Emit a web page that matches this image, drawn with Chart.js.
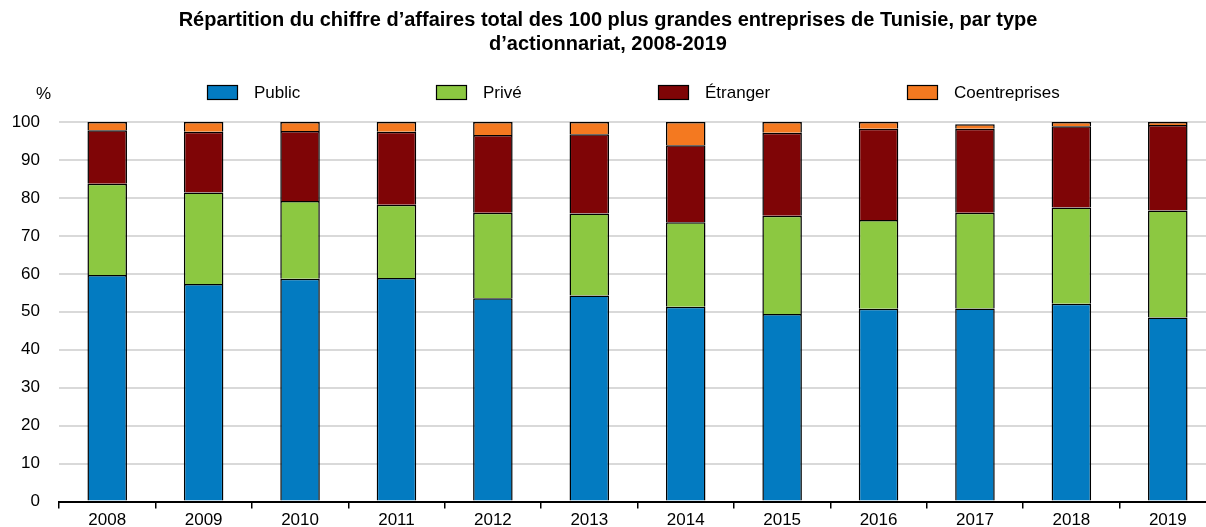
<!DOCTYPE html>
<html>
<head>
<meta charset="utf-8">
<script src="https://cdn.jsdelivr.net/npm/chart.js@4/dist/chart.umd.min.js"></script>
<style>
  html, body { margin: 0; padding: 0; background: #fff; overflow: hidden; }
  #wrap { width: 1222px; height: 533px; position: relative; }
</style>
</head>
<body>
<div id="wrap"><canvas id="myChart"></canvas></div>
<script>
const years = ['2008', '2009', '2010', '2011', '2012', '2013', '2014', '2015', '2016', '2017', '2018', '2019'];
const publicShare = [59.7, 57.3, 58.7, 58.9, 53.6, 54.3, 51.3, 49.4, 50.8, 50.9, 52.1, 48.5];
const priveShare = [24.0, 24.1, 20.5, 19.3, 22.5, 21.6, 22.3, 25.9, 23.4, 25.2, 25.4, 28.2];
const etrangerShare = [14.1, 16.0, 18.4, 19.2, 20.5, 20.9, 20.3, 21.9, 24.0, 22.1, 21.4, 22.5];
const coentrepriseShare = [2.2, 2.6, 2.4, 2.6, 3.4, 3.2, 6.1, 2.8, 1.8, 1.2, 1.1, 0.8];

const FONT = "'Liberation Sans', Arial, sans-serif";

// legend drawn by hand so the items sit where they do in the original
const legendX = [207, 436, 658, 907];
const unitLabel = {
    id: 'unitLabel',
    afterDraw(chart) {
        const c = chart.ctx;
        c.save();
        c.font = '17px ' + FONT;
        c.fillStyle = '#000';
        c.textBaseline = 'middle';
        c.textAlign = 'right';
        c.fillText('%', 51, 94);
        c.textAlign = 'left';
        chart.data.datasets.forEach((ds, i) => {
            const x = legendX[i];
            c.fillStyle = ds.backgroundColor;
            c.fillRect(x, 85, 31, 15);
            c.strokeStyle = '#000';
            c.lineWidth = 1.2;
            c.strokeRect(x + 0.5, 85.5, 30, 14);
            c.fillStyle = '#000';
            c.fillText(ds.label, x + 47, 93);
        });
        c.restore();
    }
};

const ctx = document.getElementById('myChart').getContext('2d');
const myChart = new Chart(ctx, {
    type: 'bar',
    data: {
        labels: years,
        datasets: [{
            label: 'Public',
            data: publicShare,
            backgroundColor: '#037BC1',
        }, {
            label: 'Privé',
            data: priveShare,
            backgroundColor: '#8CC841',
        }, {
            label: 'Étranger',
            data: etrangerShare,
            backgroundColor: '#7F0506',
        }, {
            label: 'Coentreprises',
            data: coentrepriseShare,
            backgroundColor: '#F47920',
        }]
    },
    options: {
        responsive: true,
        maintainAspectRatio: false,
        animation: false,
        datasets: {
            bar: {
                borderColor: '#000',
                borderWidth: 1.5,
                barPercentage: 0.41,
                categoryPercentage: 1
            }
        },
        layout: { padding: { left: 0, right: 6, top: 0, bottom: 0 } },
        plugins: {
            legend: { display: false },
            tooltip: { enabled: false },
            title: {
                display: true,
                text: ['Répartition du chiffre d’affaires total des 100 plus grandes entreprises de Tunisie, par type', 'd’actionnariat, 2008-2019'],
                color: '#000',
                font: { family: FONT, size: 20, weight: 'bold', lineHeight: 1.2 },
                padding: { top: 8, bottom: 66 }
            }
        },
        scales: {
            x: {
                stacked: true,
                grid: {
                    offset: true,
                    drawOnChartArea: false,
                    drawTicks: true,
                    tickLength: 7,
                    color: '#000',
                    lineWidth: 1.5
                },
                border: { color: '#000', width: 2 },
                ticks: {
                    color: '#000',
                    font: { family: FONT, size: 17 },
                    padding: 2,
                    maxRotation: 0
                }
            },
            y: {
                stacked: true,
                min: 0,
                max: 100,
                afterFit(scale) { scale.width = 59; },
                grid: { color: '#d9d9d9', lineWidth: 2, drawTicks: false },
                border: { display: false },
                ticks: {
                    stepSize: 10,
                    color: '#000',
                    font: { family: FONT, size: 17 },
                    padding: 19
                }
            }
        }
    },
    plugins: [unitLabel]
});
</script>
</body>
</html>
